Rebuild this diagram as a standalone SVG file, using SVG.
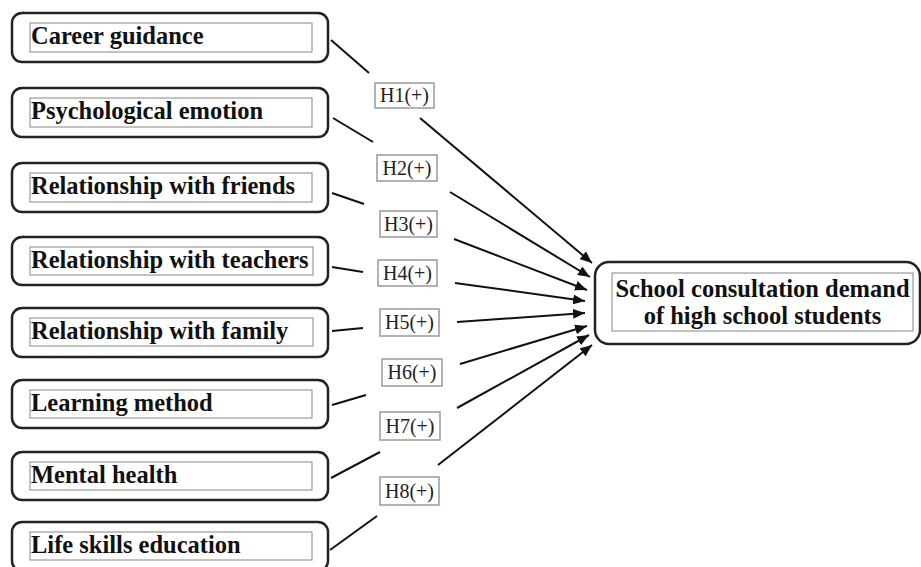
<svg xmlns="http://www.w3.org/2000/svg" width="921" height="567" viewBox="0 0 921 567">
<defs>
<style>
.outer{fill:#fff;stroke:#222;stroke-width:2.5}
.inner{fill:none;stroke:#9a9a9a;stroke-width:1.2}
.t{font-family:"Liberation Serif","Times New Roman",serif;font-weight:bold;font-size:24.5px;fill:#111}
.lb{fill:#fff;stroke:#999;stroke-width:1.5}
.lt{font-family:"Liberation Serif","Times New Roman",serif;font-size:20px;fill:#222;text-anchor:middle}
.ln{stroke:#111;stroke-width:2;fill:none}
.ar{stroke:#111;stroke-width:2;fill:none;marker-end:url(#ah)}
</style>
<marker id="ah" viewBox="0 0 12 10" refX="12" refY="5" markerWidth="12" markerHeight="10" markerUnits="userSpaceOnUse" orient="auto">
<path d="M0,0 L12,5 L0,10 z" fill="#111"/>
</marker>
</defs>
<rect width="921" height="567" fill="#fff"/>

<g id="n1"><rect class="outer" x="12" y="13" width="316" height="49" rx="10"/><rect class="inner" x="30" y="23" width="282" height="29"/><text class="t" x="31" y="44">Career guidance</text></g>
<g id="n2"><rect class="outer" x="12" y="88" width="316" height="49" rx="10"/><rect class="inner" x="30" y="98" width="282" height="29"/><text class="t" x="31" y="119">Psychological emotion</text></g>
<g id="n3"><rect class="outer" x="12" y="163" width="316" height="49" rx="10"/><rect class="inner" x="30" y="173" width="282" height="29"/><text class="t" x="31" y="194">Relationship with friends</text></g>
<g id="n4"><rect class="outer" x="12" y="237" width="316" height="48" rx="10"/><rect class="inner" x="30" y="247" width="283" height="28"/><text class="t" x="31" y="268">Relationship with teachers</text></g>
<g id="n5"><rect class="outer" x="12" y="308" width="316" height="49" rx="10"/><rect class="inner" x="30" y="318" width="283" height="28"/><text class="t" x="31" y="339">Relationship with family</text></g>
<g id="n6"><rect class="outer" x="12" y="380" width="316" height="48" rx="10"/><rect class="inner" x="30" y="390" width="282" height="28"/><text class="t" x="31" y="411">Learning method</text></g>
<g id="n7"><rect class="outer" x="12" y="452" width="316" height="48" rx="10"/><rect class="inner" x="30" y="462" width="282" height="28"/><text class="t" x="31" y="483">Mental health</text></g>
<g id="n8"><rect class="outer" x="12" y="522" width="316" height="49" rx="10"/><rect class="inner" x="30" y="532" width="282" height="28"/><text class="t" x="31" y="553">Life skills education</text></g>

<g id="target"><rect class="outer" x="595" y="262" width="325" height="82" rx="14"/><rect class="inner" x="612" y="273" width="301" height="58"/>
<text class="t" x="762.5" y="297" text-anchor="middle">School consultation demand</text>
<text class="t" x="762.5" y="324" text-anchor="middle">of high school students</text></g>

<g id="connectors">
<line class="ln" x1="331" y1="40" x2="369" y2="73"/><line class="ar" x1="420" y1="118" x2="592" y2="263"/>
<line class="ln" x1="333" y1="118" x2="373" y2="142"/><line class="ar" x1="450" y1="192" x2="590" y2="277"/>
<line class="ln" x1="332" y1="193" x2="364" y2="204"/><line class="ar" x1="454" y1="239" x2="587" y2="290"/>
<line class="ln" x1="332" y1="267" x2="363" y2="272"/><line class="ar" x1="455" y1="283" x2="585" y2="301"/>
<line class="ln" x1="332" y1="331" x2="363" y2="328"/><line class="ar" x1="457" y1="322" x2="585" y2="313"/>
<line class="ln" x1="332" y1="405" x2="366" y2="395"/><line class="ar" x1="460" y1="364" x2="587" y2="326"/>
<line class="ln" x1="331" y1="478" x2="380" y2="452"/><line class="ar" x1="457" y1="408" x2="589" y2="335"/>
<line class="ln" x1="330" y1="550" x2="377" y2="516"/><line class="ar" x1="438" y1="465" x2="592" y2="345"/>
</g>

<g id="labels">
<g id="h1"><rect class="lb" x="375" y="83" width="59" height="25"/><text class="lt" x="404.5" y="102">H1(+)</text></g>
<g id="h2"><rect class="lb" x="377" y="155" width="60" height="26"/><text class="lt" x="407" y="175">H2(+)</text></g>
<g id="h3"><rect class="lb" x="380" y="211" width="57" height="26"/><text class="lt" x="408.5" y="231">H3(+)</text></g>
<g id="h4"><rect class="lb" x="378" y="260" width="59" height="26"/><text class="lt" x="407.5" y="280">H4(+)</text></g>
<g id="h5"><rect class="lb" x="380" y="309" width="59" height="27"/><text class="lt" x="409.5" y="329">H5(+)</text></g>
<g id="h6"><rect class="lb" x="382" y="359" width="60" height="27"/><text class="lt" x="412" y="379">H6(+)</text></g>
<g id="h7"><rect class="lb" x="380" y="412" width="60" height="28"/><text class="lt" x="410" y="433">H7(+)</text></g>
<g id="h8"><rect class="lb" x="380" y="477" width="59" height="28"/><text class="lt" x="409.5" y="498">H8(+)</text></g>
</g>
</svg>
